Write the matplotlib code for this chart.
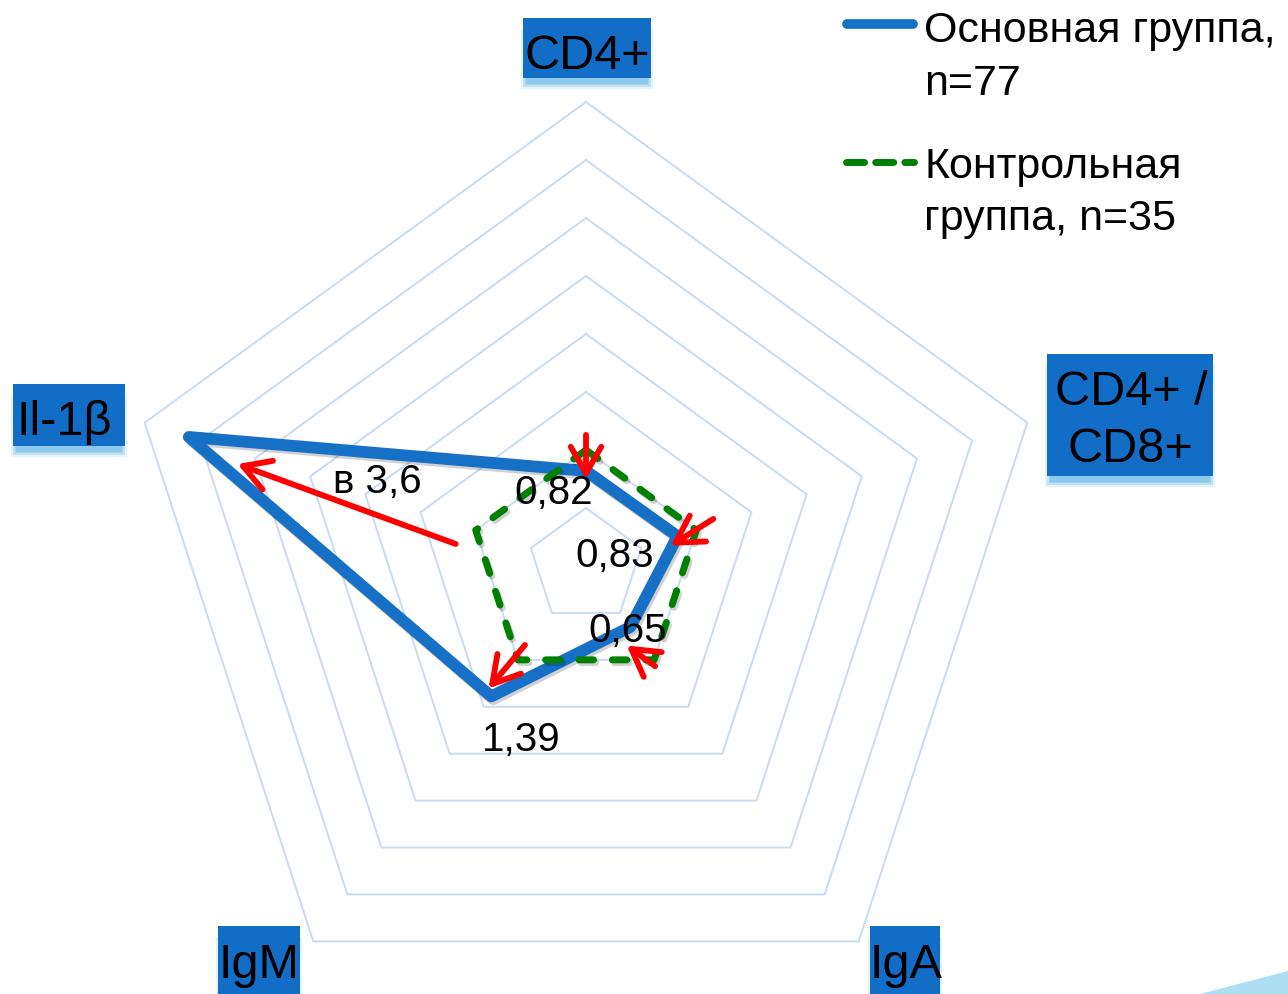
import numpy as np
import matplotlib
matplotlib.use("Agg")
import matplotlib.pyplot as plt
from matplotlib.patches import Rectangle, Polygon
from matplotlib.lines import Line2D
import matplotlib.patheffects as pe

# ---- data -------------------------------------------------------------
categories = ["CD4+", "CD4+ /\nCD8+", "IgA", "IgM", "Il-1β"]
main_values = [0.82, 0.83, 0.65, 1.39, 3.6]        # основная группа (relative to control)
control_values = [1.0, 1.0, 1.0, 1.0, 1.0]         # контрольная группа
value_labels = ["0,82", "0,83", "0,65", "1,39", "в 3,6"]
grid_levels = [0.5, 1.0, 1.5, 2.0, 2.5, 3.0, 3.5, 4.0]
series_names = [["Основная группа,", "n=77"], ["Контрольная", "группа, n=35"]]

# change arrows: (tail angle, tail r, head angle, head r), angles clockwise from top
change_arrows = [
    (0.0, 1.13, 0.0, 0.75),
    (69.7, 1.17, 76.5, 0.75),
    (145.4, 1.05, 152.9, 0.77),
    (217.7, 0.86, 218.5, 1.35),
    (279.6, 1.14, 286.3, 3.13),
]

# ---- styling ----------------------------------------------------------
W, H, DPI = 1288, 995, 100
CX, CY, UNIT = 586, 567, 116          # centre (px) and pixels per value unit
BLUE = "#1570C6"
BOX_BLUE = "#126DC6"
GLOW = "#80C4EA"
GREEN = "#008000"
GRID = "#C8DBF0"
RED = "#FF0000"
TXT_FONT = ["Liberation Sans", "DejaVu Sans"]
CAT_FONT = ["Liberation Sans Narrow", "Liberation Sans", "DejaVu Sans"]

fig = plt.figure(figsize=(W / DPI, H / DPI), dpi=DPI)
fig.patch.set_facecolor("white")
ax = fig.add_axes([0, 0, 1, 1])
ax.set_xlim(-CX / UNIT, (W - CX) / UNIT)
ax.set_ylim(-(H - CY) / UNIT, CY / UNIT)
ax.set_aspect("equal")
ax.axis("off")

n = len(categories)
angles = np.arange(n) * 360.0 / n


def polar_xy(theta_deg, r):
    t = np.deg2rad(theta_deg)
    return np.asarray(r) * np.sin(t), np.asarray(r) * np.cos(t)


closed = np.append(angles, angles[0])

# pentagon grid
for lev in grid_levels:
    gx, gy = polar_xy(closed, [lev] * (n + 1))
    ax.plot(gx, gy, color=GRID, lw=1.4, zorder=1)

shadow = [pe.SimpleLineShadow(offset=(1.5, -2), shadow_color="k", alpha=0.18), pe.Normal()]

# main group
mx, my = polar_xy(closed, main_values + main_values[:1])
ax.plot(mx, my, color=BLUE, lw=8.5, solid_joinstyle="round", solid_capstyle="round",
        zorder=3, path_effects=shadow)

# control group
cx_, cy_ = polar_xy(closed, control_values + control_values[:1])
ax.plot(cx_, cy_, color=GREEN, lw=5, dashes=(2.1, 2.7), dash_capstyle="round",
        zorder=4, path_effects=shadow)

# value labels next to the main-group vertices
label_offsets = [(-32, -21), (-63, -19), (-3, -3), (30, -43), (188, -44)]
for ang, val, txt, off in zip(angles, main_values, value_labels, label_offsets):
    vx, vy = polar_xy(ang, val)
    ax.annotate(txt, xy=(vx, vy), xytext=off, textcoords="offset pixels",
                ha="center", va="center", fontsize=29, family=TXT_FONT,
                color="black", zorder=6)

# red arrows showing the change from control to main group
for t0, r0, t1, r1 in change_arrows:
    ax.annotate("", xy=polar_xy(t1, r1), xytext=polar_xy(t0, r0),
                arrowprops=dict(arrowstyle="->,head_length=0.95,head_width=0.55",
                                color=RED, lw=4.2, shrinkA=0, shrinkB=0,
                                mutation_scale=20),
                zorder=7)


# ---- category label boxes (pixel layout) ------------------------------
def fx(px):
    return px / W


def fy(py):
    return 1 - py / H


def label_box(x0, y0, x1, y1, lines):
    # soft glow underneath
    for grow, a in [(5, 0.2), (3, 0.35), (1, 0.5), (0, 0.6)]:
        fig.add_artist(Rectangle((fx(x0 - grow + 3), fy(y1 + 6 + grow)),
                                 (x1 - x0 + 2 * grow - 6) / W, (y1 - y0) / H,
                                 transform=fig.transFigure, facecolor=GLOW,
                                 edgecolor="none", alpha=a, zorder=8))
    fig.add_artist(Rectangle((fx(x0), fy(y1)), (x1 - x0) / W, (y1 - y0) / H,
                             transform=fig.transFigure, facecolor=BOX_BLUE,
                             edgecolor="none", zorder=9))
    for txt, bx, by in lines:
        fig.text(fx(bx), fy(by), txt, ha="center", va="baseline", fontsize=35,
                 family=CAT_FONT, color="black", zorder=10)


cat_lines = categories[1].split("\n")
label_box(523, 19, 651, 79, [(categories[0], 587, 69)])
label_box(1047, 355, 1213, 477, [(cat_lines[0], 1131, 405), (cat_lines[1], 1130, 462)])
label_box(870, 927, 940, 995, [(categories[2], 906, 978)])
label_box(218, 927, 300, 995, [(categories[3], 259, 978)])
label_box(13, 385, 125, 447, [(categories[4], 64, 435)])

# ---- legend -----------------------------------------------------------
fig.add_artist(Line2D([fx(847), fx(913)], [fy(25), fy(25)], transform=fig.transFigure,
                      color=BLUE, lw=7, solid_capstyle="round", zorder=10))
fig.add_artist(Line2D([fx(846), fx(914)], [fy(163), fy(163)], transform=fig.transFigure,
                      color=GREEN, lw=5, dashes=(2.6, 1.6), dash_capstyle="round", zorder=10))
for (l1, l2), b1, b2 in zip(series_names, [42, 178], [95, 230]):
    fig.text(fx(924), fy(b1), l1, ha="left", va="baseline", fontsize=31,
             family=TXT_FONT, color="black")
    fig.text(fx(924), fy(b2), l2, ha="left", va="baseline", fontsize=31,
             family=TXT_FONT, color="black")

# decorative corner shape
fig.add_artist(Polygon([[fx(1200), fy(995)], [fx(1288), fy(972)], [fx(1288), fy(995)]],
                       closed=True, transform=fig.transFigure, facecolor="#ADDEF2",
                       edgecolor="none", zorder=11))

fig.savefig("out.png", dpi=DPI, facecolor="white")
